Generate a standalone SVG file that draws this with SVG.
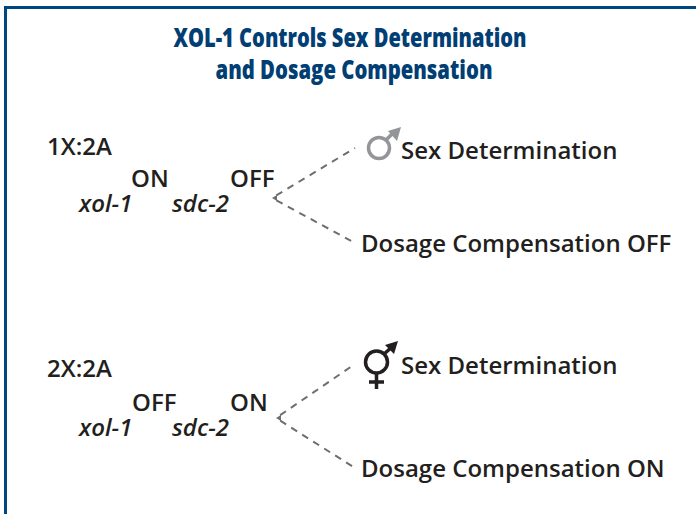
<svg xmlns="http://www.w3.org/2000/svg" width="696" height="514" viewBox="0 0 696 514">
<style>
.t{font-family:"Open Sans","Liberation Sans",sans-serif;font-weight:600;font-size:24px;fill:#231f20}
.i{font-style:italic;font-weight:600}
.h{font-family:"Open Sans","Liberation Sans",sans-serif;font-weight:800;font-size:26px;fill:#003e74;text-anchor:middle}
.d{fill:none;stroke:#6d6e71;stroke-width:2;stroke-dasharray:7 6;stroke-dashoffset:-5}
.w{fill:#6d6e71}
</style>
<rect width="696" height="514" fill="#fff"/>
<path id="frame" d="M5.500 514V7.500H696" fill="none" stroke="#00467f" stroke-width="3"/>
<g id="title">
<text class="h" x="350" y="46.500" textLength="353" lengthAdjust="spacingAndGlyphs">XOL-1 Controls Sex Determination</text>
<text class="h" x="354" y="79" textLength="277" lengthAdjust="spacingAndGlyphs">and Dosage Compensation</text>
</g>
<g id="connectors">
<path class="d" d="M272 198L355 148"/>
<path class="d" d="M272 198L355 243"/>
<path class="d" d="M276 418L355 364"/>
<path class="d" d="M276 418L355 468"/>
<path class="w" d="M272 198L277 195V201Z"/>
<path class="w" d="M276 418L281 415V421Z"/>
</g>
<g id="node-1x">
<text class="t" x="47" y="155">1X:2A</text>
<text class="t" x="131" y="187">ON</text>
<text class="t" x="230" y="187">OFF</text>
<text class="t i" x="79" y="212">xol-1</text>
<text class="t i" x="172" y="212">sdc-2</text>
</g>
<g id="node-2x">
<text class="t" x="47" y="377">2X:2A</text>
<text class="t" x="132" y="411">OFF</text>
<text class="t" x="230" y="411">ON</text>
<text class="t i" x="79" y="436">xol-1</text>
<text class="t i" x="172" y="436">sdc-2</text>
</g>
<g id="male-symbol">
<circle cx="379" cy="148" r="10.500" fill="none" stroke="#939598" stroke-width="3.500"/>
<path d="M386 140L394 132" stroke="#939598" stroke-width="3.500"/>
<path d="M401 127L397 141L388 131Z" fill="#939598"/>
</g>
<g id="sex-det-1"><text class="t" x="401" y="159">Sex Determination</text></g>
<g id="dosage-off"><text class="t" x="361" y="252">Dosage Compensation OFF</text></g>
<g id="hermaphrodite-symbol">
<circle cx="376.500" cy="362" r="11" fill="none" stroke="#231f20" stroke-width="3.500"/>
<path d="M376.500 373V389M369 382H384M384 354L392 347" fill="none" stroke="#231f20" stroke-width="3.500"/>
<path d="M398 341L394 354L385 345Z" fill="#231f20"/>
</g>
<g id="sex-det-2"><text class="t" x="401" y="374">Sex Determination</text></g>
<g id="dosage-on"><text class="t" x="361" y="477">Dosage Compensation ON</text></g>
</svg>
